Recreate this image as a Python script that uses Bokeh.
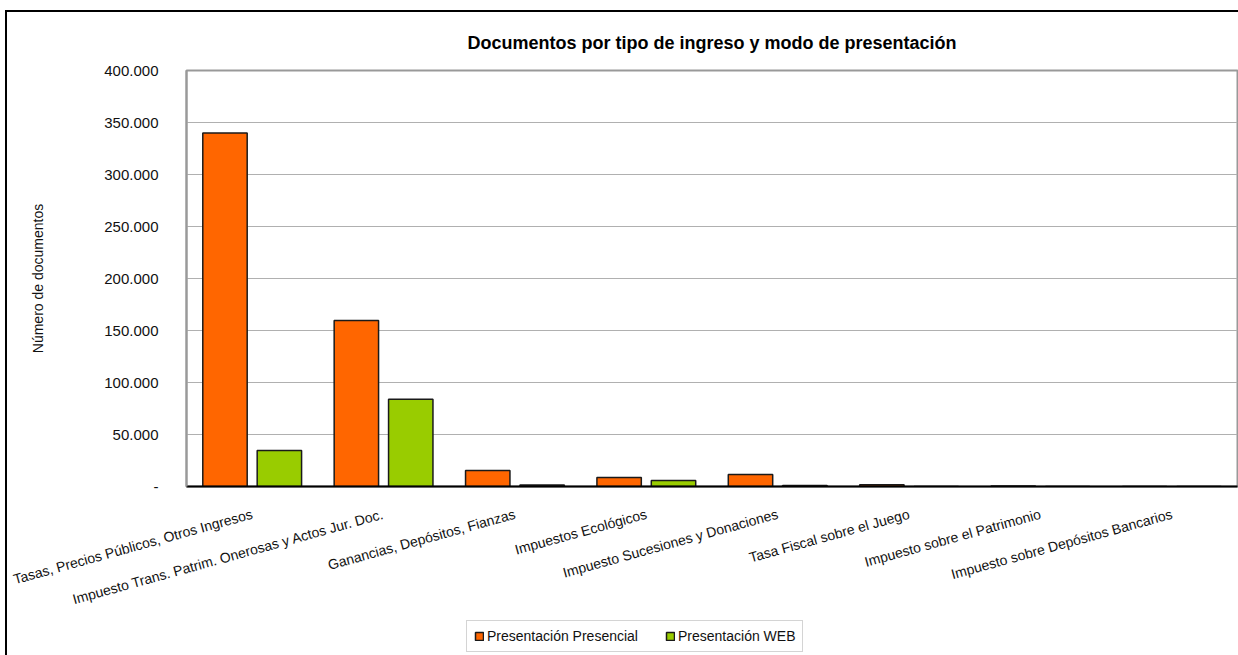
from bokeh.plotting import figure
from bokeh.layouts import column
from bokeh.models import ColumnDataSource, FactorRange, Range1d, Legend, LegendItem, FixedTicker
from bokeh.transform import dodge
from bokeh.embed import file_html
from bokeh.resources import INLINE

categories = [
    "Tasas, Precios Públicos, Otros Ingresos",
    "Impuesto Trans. Patrim. Onerosas y Actos Jur. Doc.",
    "Ganancias, Depósitos, Fianzas",
    "Impuestos Ecológicos",
    "Impuesto Sucesiones y Donaciones",
    "Tasa Fiscal sobre el Juego",
    "Impuesto sobre el Patrimonio",
    "Impuesto sobre Depósitos Bancarios",
]
presencial = [340000, 159500, 15500, 8700, 11600, 1800, 400, 0]
web = [34500, 84000, 1500, 5800, 1000, 100, 0, 0]
series_names = ["Presentación Presencial", "Presentación WEB"]
series_colors = ["#FF6600", "#99CC00"]
y_ticks = [0, 50000, 100000, 150000, 200000, 250000, 300000, 350000, 400000]
y_tick_labels = ["-", "50.000", "100.000", "150.000", "200.000", "250.000", "300.000", "350.000", "400.000"]

FONT = "Liberation Sans"

src = ColumnDataSource(dict(cat=categories, pres=presencial, web=web))

p = figure(
    x_range=FactorRange(*categories, range_padding=0.0),
    y_range=Range1d(0, 400000),
    width=1231, height=605,
    output_backend="svg", toolbar_location=None,
    min_border_left=179, min_border_right=1, min_border_top=58, min_border_bottom=100,
    title="Documentos por tipo de ingreso y modo de presentación",
)

p.title.align = "center"
p.title.text_font = FONT
p.title.text_font_style = "bold"
p.title.text_font_size = "18px"
p.title.text_color = "black"
p.title.offset = 0
p.title.standoff = 36

r1 = p.vbar(x=dodge("cat", -0.207, range=p.x_range), top="pres", width=0.338, source=src,
            fill_color=series_colors[0], line_color="#1a1a1a", line_width=1.5)
r2 = p.vbar(x=dodge("cat", 0.207, range=p.x_range), top="web", width=0.338, source=src,
            fill_color=series_colors[1], line_color="#1a1a1a", line_width=1.5)

p.outline_line_color = "#999999"
p.outline_line_width = 2
p.xgrid.grid_line_color = None
p.ygrid.grid_line_color = "#b0b0b0"
p.ygrid.grid_line_width = 1
p.yaxis.ticker = FixedTicker(ticks=y_ticks)
p.yaxis.major_label_overrides = {t: l for t, l in zip(y_ticks, y_tick_labels)}
p.yaxis.axis_line_color = "#999999"
p.yaxis.axis_line_width = 2
p.yaxis.major_tick_line_color = None
p.yaxis.minor_tick_line_color = None
p.yaxis.major_label_text_font = FONT
p.yaxis.major_label_text_font_size = "15px"
p.yaxis.major_label_text_color = "#111111"
p.yaxis.major_label_standoff = 22
p.yaxis.axis_label = "Número de documentos"
p.yaxis.axis_label_text_font = FONT
p.yaxis.axis_label_text_font_size = "14px"
p.yaxis.axis_label_text_font_style = "normal"
p.yaxis.axis_label_text_color = "#111111"
p.yaxis.axis_label_standoff = 55

p.xaxis.axis_line_color = "black"
p.xaxis.axis_line_width = 2
p.xaxis.major_tick_line_color = None
p.xaxis.minor_tick_line_color = None
p.xaxis.major_label_orientation = 0.27
p.xaxis.major_label_text_font = FONT
p.xaxis.major_label_text_font_size = "14px"
p.xaxis.major_label_text_color = "#111111"
p.xaxis.major_label_standoff = 21

# legend strip below the chart (its renderers are hidden; only the legend is drawn)
lg = figure(
    x_range=FactorRange(*categories, range_padding=0.0), y_range=Range1d(-1000, -900),
    width=1231, height=38, output_backend="svg", toolbar_location=None,
    min_border=0,
)
lg.axis.visible = False
lg.grid.visible = False
lg.outline_line_color = None
k1 = lg.vbar(x=dodge("cat", -0.207, range=lg.x_range), top="pres", width=0.338, source=src,
             fill_color=series_colors[0], line_color="#1a1a1a", line_width=1.5)
k2 = lg.vbar(x=dodge("cat", 0.207, range=lg.x_range), top="web", width=0.338, source=src,
             fill_color=series_colors[1], line_color="#1a1a1a", line_width=1.5)
k1.visible = False
k2.visible = False
legend = Legend(
    items=[LegendItem(label=series_names[0], renderers=[k1]),
           LegendItem(label=series_names[1], renderers=[k2])],
    orientation="horizontal", location=(280, 3),
    border_line_color="#aaaaaa", border_line_width=1,
    label_text_font=FONT, label_text_font_size="14px", label_text_color="#111111",
    glyph_width=10, glyph_height=10, label_standoff=3, spacing=27,
    padding=7, margin=0,
)
lg.add_layout(legend, "center")

layout = column(p, lg, spacing=0, styles={
    "margin-left": "5px", "margin-top": "10px",
    "border-left": "2px solid black", "border-top": "2px solid black",
})

open("out.html", "w").write(file_html(layout, INLINE))
